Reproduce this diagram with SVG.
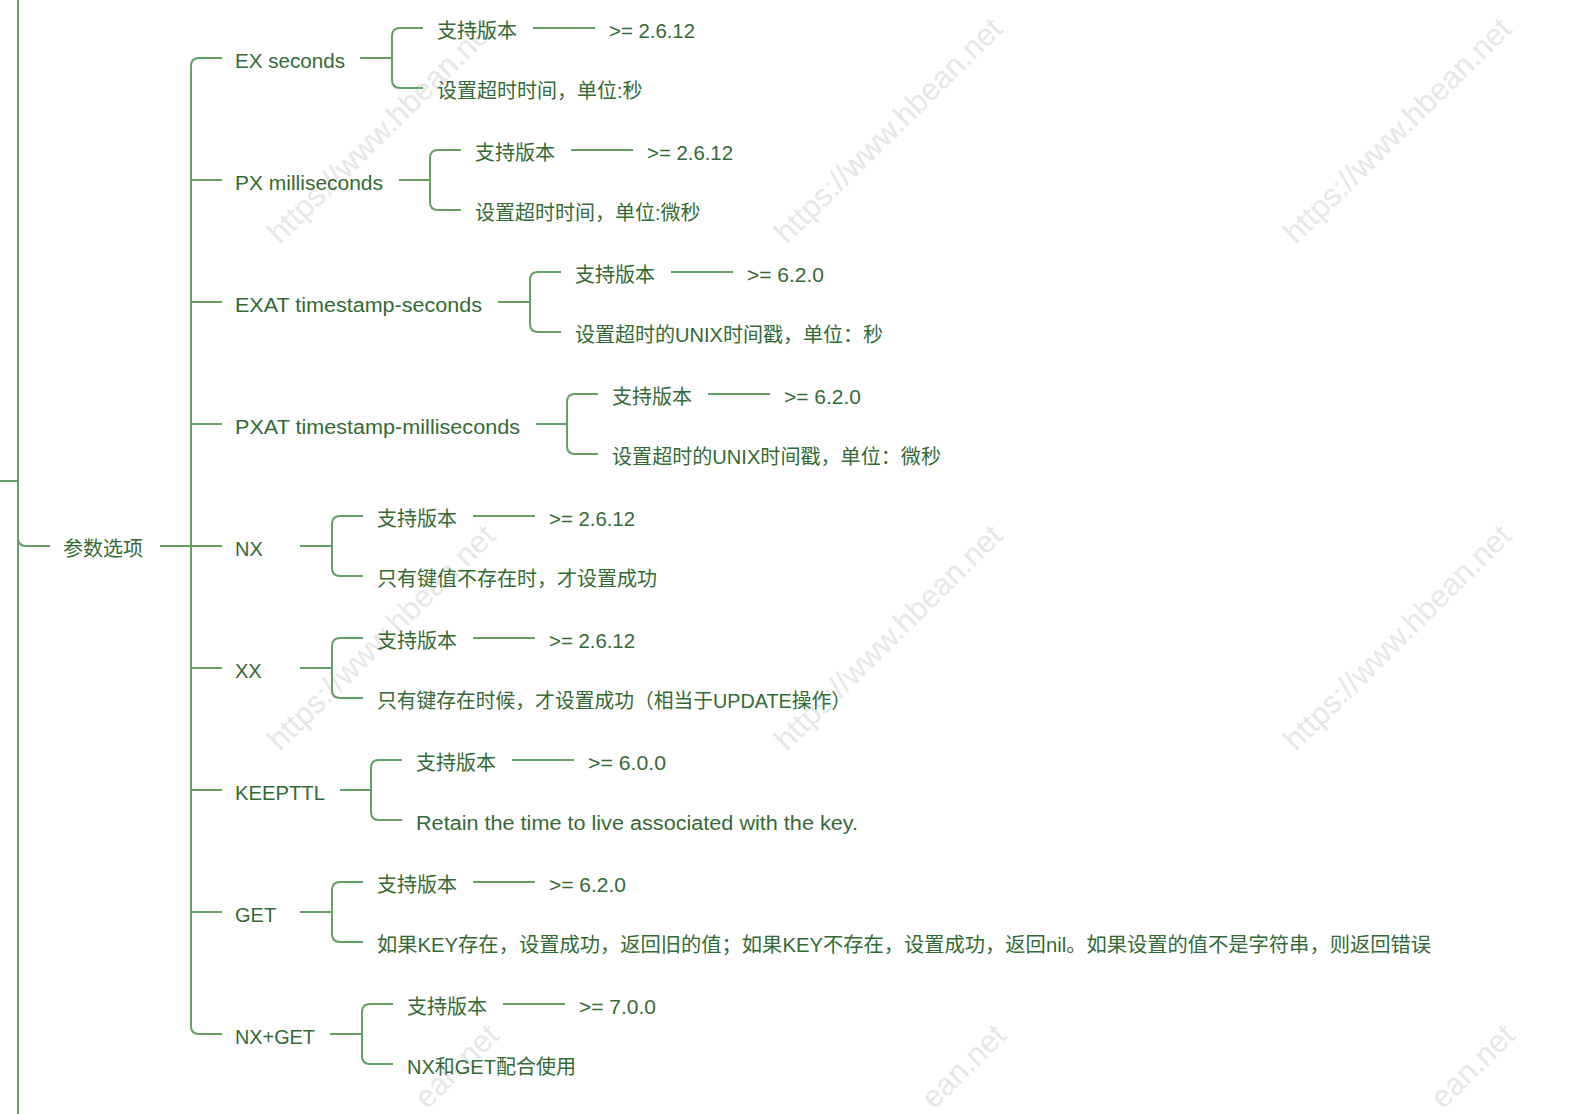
<svg xmlns="http://www.w3.org/2000/svg" width="1578" height="1114" viewBox="0 0 1578 1114">
<style>
.wm{font-family:"Liberation Sans","Noto Sans",sans-serif;font-size:31px;fill:#e7e7e7}
.t{font-family:"Liberation Sans","Noto Sans CJK SC",sans-serif;font-size:20px;fill:#346a35}
.c{fill:none;stroke:#62a063;stroke-width:2}
</style>
<rect x="0" y="0" width="1578" height="1114" fill="#ffffff"/>
<g id="watermarks">
<text class="wm" transform="translate(280,245) rotate(-44.6)">https://www.hbean.net</text>
<text class="wm" transform="translate(787,245) rotate(-44.6)">https://www.hbean.net</text>
<text class="wm" transform="translate(1296,245) rotate(-44.6)">https://www.hbean.net</text>
<text class="wm" transform="translate(280,752) rotate(-44.6)">https://www.hbean.net</text>
<text class="wm" transform="translate(787,752) rotate(-44.6)">https://www.hbean.net</text>
<text class="wm" transform="translate(1296,752) rotate(-44.6)">https://www.hbean.net</text>
<text class="wm" transform="translate(427,1110) rotate(-44.6)">ean.net</text>
<text class="wm" transform="translate(934,1110) rotate(-44.6)">ean.net</text>
<text class="wm" transform="translate(1443,1110) rotate(-44.6)">ean.net</text>
</g>
<g id="connectors">
<path class="c" d="M18,0 V1114 M0,481 H18 M18,538 Q18,546 26,546 H50"/>
<path class="c" d="M160,546 H222 M222,58 H199 Q191,58 191,66 V1026 Q191,1034 199,1034 H222 M191,180 H222 M191,302 H222 M191,424 H222 M191,668 H222 M191,790 H222 M191,912 H222"/>
<path class="c" d="M360,58 H392 M423,28 H400 Q392,28 392,36 V80 Q392,88 400,88 H423 M533,28 H595"/>
<path class="c" d="M399,180 H430 M461,150 H438 Q430,150 430,158 V202 Q430,210 438,210 H461 M571,150 H633"/>
<path class="c" d="M498,302 H530 M561,272 H538 Q530,272 530,280 V324 Q530,332 538,332 H561 M671,272 H733"/>
<path class="c" d="M536,424 H567 M598,394 H575 Q567,394 567,402 V446 Q567,454 575,454 H598 M708,394 H770"/>
<path class="c" d="M300,546 H332 M363,516 H340 Q332,516 332,524 V568 Q332,576 340,576 H363 M473,516 H535"/>
<path class="c" d="M300,668 H332 M363,638 H340 Q332,638 332,646 V690 Q332,698 340,698 H363 M473,638 H535"/>
<path class="c" d="M340,790 H371 M402,760 H379 Q371,760 371,768 V812 Q371,820 379,820 H402 M512,760 H574"/>
<path class="c" d="M300,912 H332 M363,882 H340 Q332,882 332,890 V934 Q332,942 340,942 H363 M473,882 H535"/>
<path class="c" d="M330,1034 H362 M393,1004 H370 Q362,1004 362,1012 V1056 Q362,1064 370,1064 H393 M503,1004 H565"/>
</g>
<g id="node-params"><text class="t" x="63" y="556">参数选项</text></g>
<g id="node-ex">
<text class="t" x="235" y="68" textLength="110" lengthAdjust="spacingAndGlyphs">EX seconds</text>
<text class="t" x="437" y="38">支持版本</text>
<text class="t" x="609" y="38" textLength="86" lengthAdjust="spacingAndGlyphs">&gt;= 2.6.12</text>
<text class="t" x="437" y="98">设置超时时间，单位:秒</text>
</g>
<g id="node-px">
<text class="t" x="235" y="190" textLength="148" lengthAdjust="spacingAndGlyphs">PX milliseconds</text>
<text class="t" x="475" y="160">支持版本</text>
<text class="t" x="647" y="160" textLength="86" lengthAdjust="spacingAndGlyphs">&gt;= 2.6.12</text>
<text class="t" x="475" y="220">设置超时时间，单位:微秒</text>
</g>
<g id="node-exat">
<text class="t" x="235" y="312" textLength="247" lengthAdjust="spacingAndGlyphs">EXAT timestamp-seconds</text>
<text class="t" x="575" y="282">支持版本</text>
<text class="t" x="747" y="282" textLength="77" lengthAdjust="spacingAndGlyphs">&gt;= 6.2.0</text>
<text class="t" x="575" y="342" textLength="308" lengthAdjust="spacingAndGlyphs">设置超时的UNIX时间戳，单位：秒</text>
</g>
<g id="node-pxat">
<text class="t" x="235" y="434" textLength="285" lengthAdjust="spacingAndGlyphs">PXAT timestamp-milliseconds</text>
<text class="t" x="612" y="404">支持版本</text>
<text class="t" x="784" y="404" textLength="77" lengthAdjust="spacingAndGlyphs">&gt;= 6.2.0</text>
<text class="t" x="612" y="464" textLength="329" lengthAdjust="spacingAndGlyphs">设置超时的UNIX时间戳，单位：微秒</text>
</g>
<g id="node-nx">
<text class="t" x="235" y="556">NX</text>
<text class="t" x="377" y="526">支持版本</text>
<text class="t" x="549" y="526" textLength="86" lengthAdjust="spacingAndGlyphs">&gt;= 2.6.12</text>
<text class="t" x="377" y="586">只有键值不存在时，才设置成功</text>
</g>
<g id="node-xx">
<text class="t" x="235" y="678">XX</text>
<text class="t" x="377" y="648">支持版本</text>
<text class="t" x="549" y="648" textLength="86" lengthAdjust="spacingAndGlyphs">&gt;= 2.6.12</text>
<text class="t" x="377" y="708" textLength="474" lengthAdjust="spacingAndGlyphs">只有键存在时候，才设置成功（相当于UPDATE操作）</text>
</g>
<g id="node-keepttl">
<text class="t" x="235" y="800" textLength="90" lengthAdjust="spacingAndGlyphs">KEEPTTL</text>
<text class="t" x="416" y="770">支持版本</text>
<text class="t" x="588" y="770" textLength="78" lengthAdjust="spacingAndGlyphs">&gt;= 6.0.0</text>
<text class="t" x="416" y="830" textLength="442" lengthAdjust="spacingAndGlyphs">Retain the time to live associated with the key.</text>
</g>
<g id="node-get">
<text class="t" x="235" y="922">GET</text>
<text class="t" x="377" y="892">支持版本</text>
<text class="t" x="549" y="892" textLength="77" lengthAdjust="spacingAndGlyphs">&gt;= 6.2.0</text>
<text class="t" x="377" y="952" textLength="1054" lengthAdjust="spacingAndGlyphs">如果KEY存在，设置成功，返回旧的值；如果KEY不存在，设置成功，返回nil。如果设置的值不是字符串，则返回错误</text>
</g>
<g id="node-nxget">
<text class="t" x="235" y="1044" textLength="80" lengthAdjust="spacingAndGlyphs">NX+GET</text>
<text class="t" x="407" y="1014">支持版本</text>
<text class="t" x="579" y="1014" textLength="77" lengthAdjust="spacingAndGlyphs">&gt;= 7.0.0</text>
<text class="t" x="407" y="1074">NX和GET配合使用</text>
</g>
</svg>
